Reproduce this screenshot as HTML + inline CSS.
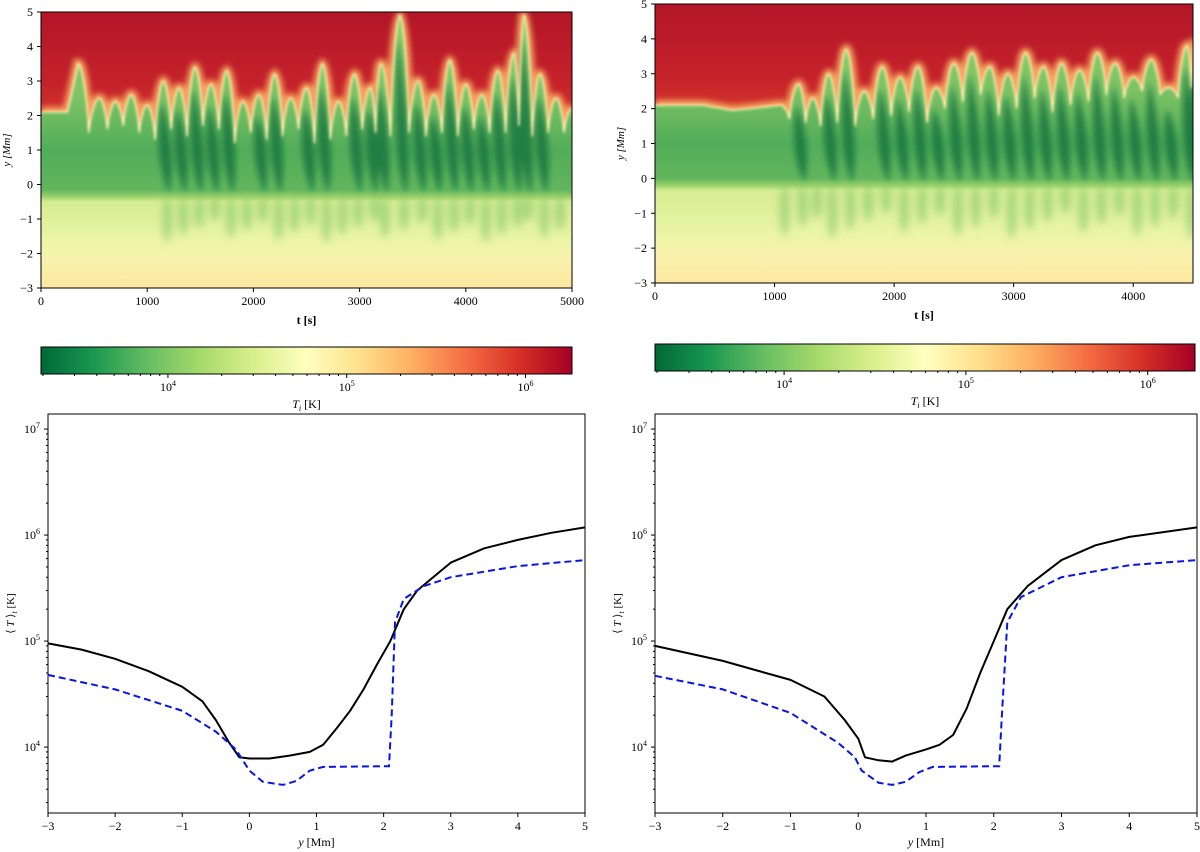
<!DOCTYPE html>
<html><head><meta charset="utf-8"><style>
html,body{margin:0;padding:0;background:#fff;}
svg{display:block;font-family:"Liberation Serif",serif;}
</style></head><body>
<svg id="fig" width="1200" height="852" viewBox="0 0 1200 852" xmlns="http://www.w3.org/2000/svg">
<defs>
<linearGradient id="cmap" x1="0" x2="1" y1="0" y2="0">
<stop offset="0" stop-color="#006837"/><stop offset="0.1" stop-color="#1a9850"/><stop offset="0.2" stop-color="#66bd63"/><stop offset="0.3" stop-color="#a6d96a"/><stop offset="0.4" stop-color="#d9ef8b"/><stop offset="0.5" stop-color="#ffffbf"/><stop offset="0.6" stop-color="#fee08b"/><stop offset="0.7" stop-color="#fdae61"/><stop offset="0.8" stop-color="#f46d43"/><stop offset="0.9" stop-color="#d73027"/><stop offset="1" stop-color="#a50026"/>
</linearGradient>
<filter id="blur3" x="-50%" y="-50%" width="200%" height="200%"><feGaussianBlur stdDeviation="3"/></filter>
<filter id="blur6" x="-50%" y="-50%" width="200%" height="200%"><feGaussianBlur stdDeviation="4"/></filter>
<filter id="blur1"><feGaussianBlur stdDeviation="1.2"/></filter>
</defs>
</svg>
<script>
// ---- data ----
const peaksL_t=[0,250,350,550,700,850,1000,1150,1300,1450,1600,1750,1900,2050,2200,2350,2500,2650,2800,2950,3100,3200,3380,3550,3700,3850,4000,4150,4300,4450,4550,4700,4850,5000];
const peaksL_y=[2.1,2.1,3.5,2.5,2.4,2.6,2.3,3.0,2.8,3.4,2.9,3.3,2.4,2.6,3.2,2.5,2.8,3.5,2.4,3.2,2.8,3.5,4.9,3.0,2.6,3.6,2.9,2.6,3.3,3.8,4.9,3.2,2.5,2.2];
const valleysL=[2.1,2.1,2.1,1.5,1.6,1.7,1.5,1.3,1.6,1.4,1.7,1.6,1.2,1.5,1.3,1.4,1.6,1.2,1.3,1.4,1.6,1.5,1.4,1.5,1.4,1.5,1.4,1.6,1.5,1.5,1.7,1.4,1.5,1.5];
const peaksR_t=[0,400,650,800,1050,1200,1320,1450,1600,1750,1900,2050,2200,2350,2500,2650,2800,2950,3100,3250,3400,3550,3700,3850,4000,4150,4300,4450,4520];
const peaksR_y=[2.1,2.1,1.95,2.0,2.1,2.7,2.3,3.0,3.7,2.5,3.2,2.9,3.2,2.6,3.3,3.6,3.2,3.0,3.6,3.2,3.3,3.1,3.6,3.3,2.9,3.4,2.6,3.8,3.9];
const valleysR=[2.1,2.1,1.95,2.0,2.1,1.7,1.6,1.5,1.6,1.5,1.7,1.8,1.9,1.6,2.0,2.2,2.4,1.8,2.0,2.3,1.9,2.1,2.2,2.4,2.3,2.5,2.4,2.3,2.6];
const yL=[-3,-2.5,-2,-1.5,-1,-0.7,-0.5,-0.3,-0.15,0,0.3,0.6,0.9,1.1,1.3,1.5,1.7,1.9,2.1,2.3,2.5,3,3.5,4,4.5,5];
const blackL=[9.5e4,8.3e4,6.8e4,5.2e4,3.7e4,2.7e4,1.8e4,1.1e4,8e3,7.8e3,7.8e3,8.3e3,9e3,1.05e4,1.5e4,2.2e4,3.5e4,6e4,1e5,2e5,3e5,5.5e5,7.5e5,9e5,1.05e6,1.18e6];
const yLb=[-3,-2,-1,-0.5,-0.2,0,0.2,0.5,0.7,0.9,1.1,2.08,2.12,2.17,2.3,2.6,3,4,5];
const blueL=[4.8e4,3.5e4,2.2e4,1.4e4,9.5e3,6e3,4.7e3,4.4e3,4.8e3,6e3,6.5e3,6.6e3,2e4,1.5e5,2.5e5,3.3e5,4e5,5.1e5,5.8e5];
const yR=[-3,-2,-1,-0.5,-0.2,0,0.1,0.3,0.5,0.7,1,1.2,1.4,1.6,1.8,2,2.2,2.5,3,3.5,4,5];
const blackR=[9e4,6.5e4,4.3e4,3e4,1.8e4,1.2e4,8e3,7.5e3,7.3e3,8.3e3,9.5e3,1.05e4,1.3e4,2.3e4,5e4,1e5,2e5,3.3e5,5.8e5,8e5,9.6e5,1.18e6];
const yRb=[-3,-2,-1,-0.3,-0.05,0.05,0.3,0.5,0.7,0.9,1.1,2.08,2.12,2.2,2.4,3,4,5];
const blueR=[4.7e4,3.5e4,2.1e4,1.1e4,8e3,6e3,4.6e3,4.4e3,4.7e3,5.8e3,6.5e3,6.6e3,2e4,1.5e5,2.6e5,4e5,5.2e5,5.8e5];
const xTicksL=[0,1000,2000,3000,4000,5000];
const xTicksR=[0,1000,2000,3000,4000];
const yTicksHeat=[-3,-2,-1,0,1,2,3,4,5];
const yTicksLine=[-3,-2,-1,0,1,2,3,4,5];
const NS='http://www.w3.org/2000/svg';
const svg=document.getElementById('fig');
const defs=svg.querySelector('defs');
function mk(tag,attrs,parent){const e=document.createElementNS(NS,tag);for(const k in attrs)e.setAttribute(k,attrs[k]);(parent||svg).appendChild(e);return e;}
function txt(x,y,s,anchor,size,parent){const t=mk('text',{x:x,y:y,'text-anchor':anchor||'middle','font-size':size||12,fill:'#000'},parent);t.textContent=s;return t;}
function sup(x,y,base,exp,parent){const t=mk('text',{x:x,y:y,'text-anchor':'middle','font-size':12,fill:'#000'},parent);t.textContent=base;const s=document.createElementNS(NS,'tspan');s.setAttribute('dy','-5');s.setAttribute('font-size','8');s.textContent=exp;t.appendChild(s);return t;}

function heat(id,x0,x1,y0,y1,tmax,pt,py,pv,xt,yLabelX,bandLo,wispT0,wispT1,wispDepth){
  const g=mk('g',{});
  
  
  const X=t=>x0+(t/tmax)*(x1-x0);
  const Y=v=>y1-(v+3)/8*(y1-y0);
  const cp=mk('clipPath',{id:id+'-clip'},defs);mk('rect',{x:x0,y:y0,width:x1-x0,height:y1-y0},cp);
  const gr=mk('linearGradient',{id:id+'-red',x1:0,x2:0,y1:Y(5),y2:Y(1.2),gradientUnits:'userSpaceOnUse'},defs);
  [['0','#b31628'],['0.55','#c5222a'],['1','#dc432d']].forEach(s=>mk('stop',{offset:s[0],'stop-color':s[1]},gr));
  const gg=mk('linearGradient',{id:id+'-grn',x1:0,x2:0,y1:Y(4.5),y2:Y(-3),gradientUnits:'userSpaceOnUse'},defs);
  [[4.5,'#8fcc68'],[2.5,'#7cc264'],[1,'#52ad59'],[bandLo+0.2,'#62b55d'],[bandLo,'#9ad16c'],[bandLo-0.15,'#d6ed92'],[-1.6,'#eaf5a6'],[-2.2,'#f9f2ae'],[-3,'#fce7a0']].forEach(s=>mk('stop',{offset:((4.5-s[0])/7.5).toFixed(3),'stop-color':s[1]},gg));
  const inner=mk('g',{'clip-path':'url(#'+id+'-clip)'},g);
  const bg=mk('rect',{x:x0,y:y0,width:x1-x0,height:y1-y0,fill:'url(#'+id+'-red)'},inner);
  
  let d='M'+X(pt[0])+','+Y(py[0]);
  for(let i=1;i<pt.length;i++){
    const a=pt[i-1],b=pt[i],ya=py[i-1],yb=py[i],vy=pv[i];
    if(vy>=Math.min(ya,yb)-0.05){d+=' L'+X(b)+','+Y(yb);continue;}
    const m=(a+b)/2,w=(b-a)/2;
    d+=' C'+X(a+w*0.35)+','+Y(ya)+' '+X(m-w*0.15)+','+Y(vy+0.5*(ya-vy))+' '+X(m)+','+Y(vy);
    d+=' C'+X(m+w*0.15)+','+Y(vy+0.5*(yb-vy))+' '+X(b-w*0.35)+','+Y(yb)+' '+X(b)+','+Y(yb);
  }
  const area=d+' L'+X(pt[pt.length-1])+','+(y1+2)+' L'+x0+','+(y1+2)+' Z';
  mk('path',{d:d,fill:'none',stroke:'#f4a460','stroke-width':10,filter:'url(#blur3)'},inner);
  const gp=mk('path',{d:area,fill:'url(#'+id+'-grn)'},inner);
  
  const wg=mk('g',{opacity:0.5,filter:'url(#blur6)'},inner);
  for(let i=0;i<pt.length;i++){if(pt[i]<wispT0||pt[i]>wispT1)continue;
    const dep=wispDepth*(0.5+0.5*((i*37)%10)/10);
    mk('ellipse',{cx:X(pt[i])+4,cy:Y(bandLo-dep/2),rx:5,ry:(y1-y0)*dep/16,fill:'#6fbd60'},wg);}
  const dg=mk('g',{filter:'url(#blur3)'},inner);
  for(let i=0;i<pt.length;i++){
    if(pt[i]<wispT0)continue;
    if(py[i]>2.5){const cx=X(pt[i]);mk('path',{d:'M'+(cx-2)+','+Y(py[i]-0.6)+' Q'+(cx+14)+','+Y(1)+' '+(cx+6)+','+Y(bandLo+0.1)+' Q'+(cx-10)+','+Y(0.8)+' '+(cx-2)+','+Y(py[i]-0.6)+'Z',fill:'#13703c',opacity:0.75},dg);}
  }
  mk('path',{d:d,fill:'none',stroke:'#fff3b5','stroke-width':1.6,filter:'url(#blur1)'},inner);
  mk('rect',{x:x0,y:y0,width:x1-x0,height:y1-y0,fill:'none',stroke:'#000','stroke-width':1},g);
  xt.forEach(t=>{mk('line',{x1:X(t),x2:X(t),y1:y1,y2:y1+4,stroke:'#000'},g);txt(X(t),y1+17,String(t),'middle',12,g);});
  yTicksHeat.forEach(v=>{mk('line',{x1:x0-4,x2:x0,y1:Y(v),y2:Y(v),stroke:'#000'},g);txt(x0-8,Y(v)+4,v<0?'\u2212'+(-v):String(v),'end',12,g);});
  const xl=txt((x0+x1)/2,y1+36,'t [s]','middle',12,g);xl.setAttribute('font-weight','bold');
  
  const yl=txt(0,0,'y [Mm]','middle',11,g);yl.setAttribute('transform','translate('+yLabelX+','+((y0+y1)/2)+') rotate(-90)');yl.setAttribute('font-style','italic');
  
}
heat('heatmap-left',41,572,12,288,5000,peaksL_t,peaksL_y,valleysL,xTicksL,10,-0.35,1100,4900,1.4);
heat('heatmap-right',655,1193,4,283,4500,peaksR_t,peaksR_y,valleysR,xTicksR,624,-0.2,1050,4500,1.6);

function cbar(id,x0,x1,y0,y1){
  const g=mk('g',{});
  
  
  mk('rect',{x:x0,y:y0,width:x1-x0,height:y1-y0,fill:'url(#cmap)',stroke:'#000','stroke-width':1},g);
  const lo=3.29,hi=6.26;const X=l=>x0+(l-lo)/(hi-lo)*(x1-x0);
  for(let dec=3;dec<=6;dec++)for(let m=1;m<10;m++){const l=dec+Math.log10(m);if(l<lo||l>hi)continue;const major=m===1;
    mk('line',{x1:X(l),x2:X(l),y1:y1,y2:y1+(major?4:2),stroke:'#000'},g);
    if(major)sup(X(l),y1+17,'10',String(dec),g);}
  const t=txt((x0+x1)/2,y1+34,'','middle',12,g);
  t.innerHTML='<tspan font-style="italic">T</tspan><tspan font-size="8" dy="3" font-style="italic">i</tspan><tspan dy="-3"> [K]</tspan>';
  
}
cbar('colorbar-left',41,572,347,374);
cbar('colorbar-right',655,1195,344,371);

function lineplot(id,x0,x1,y0,y1,ys,bk,yb,bl){
  const g=mk('g',{});
  
  
  const lo=3.378,hi=7.142;
  const X=v=>x0+(v+3)/8*(x1-x0);const Y=T=>y1-(Math.log10(T)-lo)/(hi-lo)*(y1-y0);
  mk('rect',{x:x0,y:y0,width:x1-x0,height:y1-y0,fill:'#fff',stroke:'#000','stroke-width':1},g);
  for(let dec=3;dec<=7;dec++)for(let m=1;m<10;m++){const l=dec+Math.log10(m);if(l<lo||l>hi)continue;const major=m===1;const yy=y1-(l-lo)/(hi-lo)*(y1-y0);
    mk('line',{x1:x0-(major?4:2),x2:x0,y1:yy,y2:yy,stroke:'#000'},g);
    if(major)sup(x0-16,yy+4,'10',String(dec),g);}
  yTicksLine.forEach(v=>{mk('line',{x1:X(v),x2:X(v),y1:y1,y2:y1+4,stroke:'#000'},g);txt(X(v),y1+17,v<0?'\u2212'+(-v):String(v),'middle',12,g);});
  const xl=txt((x0+x1)/2,y1+33,'','middle',12,g);xl.innerHTML='<tspan font-style="italic">y</tspan> [Mm]';
  
  const yl=txt(0,0,'','middle',11,g);yl.innerHTML='\u27E8 <tspan font-style="italic">T</tspan> \u27E9<tspan font-size="8" dy="3" font-style="italic">t</tspan><tspan dy="-3"> [K]</tspan>';
  yl.setAttribute('transform','translate('+(x0-34)+','+((y0+y1)/2)+') rotate(-90)');
  
  const pb=mk('polyline',{points:ys.map((v,i)=>X(v).toFixed(1)+','+Y(bk[i]).toFixed(1)).join(' '),fill:'none',stroke:'#000','stroke-width':2,'stroke-linejoin':'round'},g);
  
  const pl=mk('polyline',{points:yb.map((v,i)=>X(v).toFixed(1)+','+Y(bl[i]).toFixed(1)).join(' '),fill:'none',stroke:'#0a14e6','stroke-width':2,'stroke-dasharray':'7,4'},g);
  
}
lineplot('profile-left',48,585,414,813,yL,blackL,yLb,blueL);
lineplot('profile-right',655,1197,414,813,yR,blackR,yRb,blueR);
</script>
</body></html>
